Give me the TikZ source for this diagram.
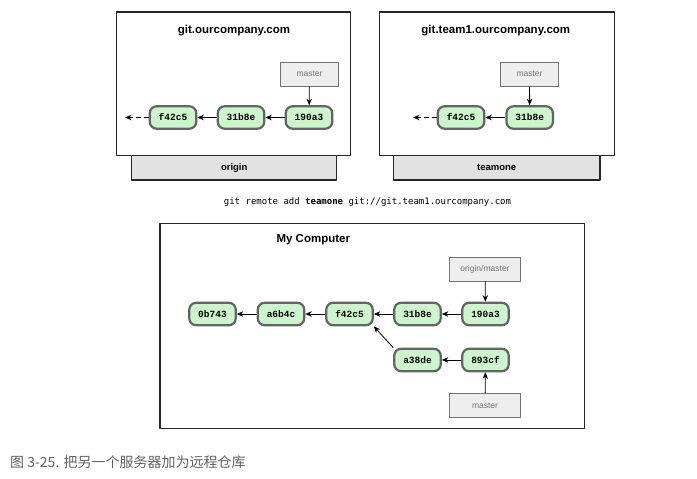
\documentclass[tikz,border=0pt]{standalone}
\usepackage{fontspec}
\setmainfont{Liberation Sans}
\newfontfamily\hashfont{Liberation Mono}
\newfontfamily\cmdfont{DejaVu Sans Mono}
\newfontfamily\cjkfont{Noto Sans CJK SC}
\usetikzlibrary{arrows.meta}
\definecolor{commitfill}{RGB}{204,245,204}
\definecolor{commitline}{RGB}{100,100,100}
\definecolor{branchfill}{RGB}{238,238,238}
\definecolor{branchline}{RGB}{115,115,115}
\definecolor{labelfill}{RGB}{226,226,226}
\begin{document}
\begin{tikzpicture}[x=1pt, y=-1pt, line join=round, >={Stealth[length=6.5pt,width=5.5pt]},
	commit/.style={draw=commitline, fill=commitfill, line width=2.2pt, rounded corners=7pt,
		minimum width=46.5pt, minimum height=22.5pt, inner sep=0pt, font=\hashfont\bfseries\fontsize{9.5}{11}\selectfont},
	branch/.style={draw=branchline, fill=branchfill, line width=1pt, minimum height=24pt,
		inner sep=0pt, text=branchline, font=\fontsize{8.5}{10}\selectfont},
	server/.style={draw=black!85, fill=white, line width=1.3pt, inner sep=0pt},
	label/.style={draw=black!85, fill=labelfill, line width=1.3pt, inner sep=0pt,
		minimum height=24.3pt, font=\bfseries\fontsize{9.5}{11}\selectfont},
	title/.style={font=\bfseries\fontsize{11.5}{13}\selectfont},
	link/.style={->, line width=0.8pt}]
	\useasboundingbox (0,0) rectangle (697,479);
	% origin server
	\node[label, minimum width=205pt] (originlbl) at (234.2,167.9) {origin};
	\node[server, minimum width=234pt, minimum height=143.7pt] (origin) at (233.7,83.9) {};
	\node[title] (origintitle) at (234,30.7) {git.ourcompany.com};
	\node[branch, minimum width=57.6pt] (omaster) at (309.5,74) {master};
	\node[commit] (o190) at (309,117.5) {190a3};
	\node[commit] (o31b) at (241,117.5) {31b8e};
	\node[commit] (of42) at (173,117.5) {f42c5};
	\coordinate (oend) at (125,117.5);
	\draw[link] (omaster)--(o190);
	\draw[link] (o190)--(o31b);
	\draw[link] (o31b)--(of42);
	\draw[link, dash pattern=on 5pt off 3pt] (of42)--(oend);
	% teamone server
	\node[label, minimum width=206.7pt] (teamlbl) at (496.7,167.9) {teamone};
	\node[server, minimum width=235pt, minimum height=143.7pt] (team) at (496.8,83.9) {};
	\node[title] (teamtitle) at (495.8,30.7) {git.team1.ourcompany.com};
	\node[branch, minimum width=57.6pt] (tmaster) at (529.5,74) {master};
	\node[commit] (t31b) at (529.7,117.5) {31b8e};
	\node[commit] (tf42) at (461,117.5) {f42c5};
	\coordinate (tend) at (413,117.5);
	\draw[link] (tmaster)--(t31b);
	\draw[link] (t31b)--(tf42);
	\draw[link, dash pattern=on 5pt off 3pt] (tf42)--(tend);
	% command
	\node[font=\cmdfont\fontsize{9}{11}\selectfont] (cmd) at (367.5,201.7) {git remote add \textbf{teamone} git://git.team1.ourcompany.com};
	% my computer
	\node[server, minimum width=424.3pt, minimum height=205pt] (local) at (372.2,325.8) {};
	\node[title] (localtitle) at (313.3,239.3) {My Computer};
	\node[branch, minimum width=71.4pt] (lorigin) at (485,269) {origin/master};
	\node[branch, minimum width=71.4pt] (lmaster) at (485,405.5) {master};
	\node[commit] (l0b7) at (212.5,314) {0b743};
	\node[commit] (la6b) at (281,314) {a6b4c};
	\node[commit] (lf42) at (349.5,314) {f42c5};
	\node[commit] (l31b) at (417.5,314) {31b8e};
	\node[commit] (l190) at (485.5,314) {190a3};
	\node[commit] (la38) at (417.5,360) {a38de};
	\node[commit] (l893) at (485.5,360) {893cf};
	\draw[link] (lorigin)--(l190);
	\draw[link] (lmaster)--(l893);
	\draw[link] (l190)--(l31b);
	\draw[link] (l31b)--(lf42);
	\draw[link] (lf42)--(la6b);
	\draw[link] (la6b)--(l0b7);
	\draw[link] (l893)--(la38);
	\draw[link] (la38.north west)--(lf42.south east);
	% caption
	\node[anchor=west, inner sep=0pt, text=black!62, font=\fontsize{14}{16}\selectfont] (caption) at (10,462.7) {\cjkfont 图 3-25. 把另一个服务器加为远程仓库};
\end{tikzpicture}
\end{document}
